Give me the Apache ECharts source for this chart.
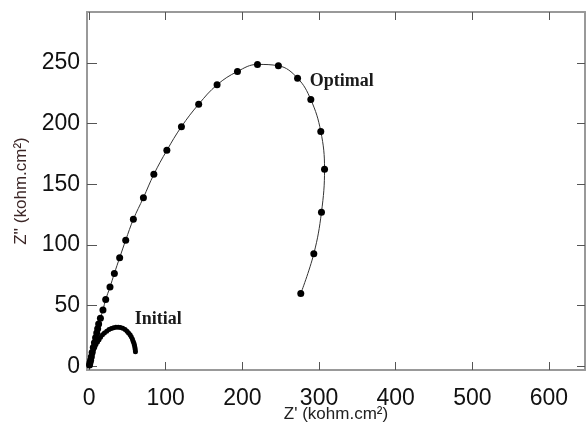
<!DOCTYPE html>
<html>
<head>
<meta charset="utf-8">
<script src="https://cdn.jsdelivr.net/npm/echarts@6/dist/echarts.min.js"></script>
<style>
html,body{margin:0;padding:0;background:#fff;}
#main{width:586px;height:426px;}
</style>
</head>
<body>
<div id="main"></div>
<script>
// Z' / Z'' en kohm.cm2
var optimalPts=[
    [0.6,1.2],[1.2,3],[2,5],[3,8],[4,11.5],[5.5,15.5],[7,19.5],[8.5,23.5],[10,27.5],[11.2,31],
    [12.5,35],[14.8,39.7],[18.1,46.5],[21.7,55.1],[27.3,65.3],[33,76.6],[39.9,89.5],[47.8,104],
    [57.8,121.2],[70.9,139],[84.5,158.2],[101.5,178],[120.5,197.5],[143,216],[167,232],
    [193.6,243],[219.7,248.8],[247,247.7],[272,237.5],[289.3,219.8],[302.3,193.6],
    [307.2,162.5],[303.2,127],[293.2,92.8],[276.2,60]
];
var initialPts=[
    [0.5,0.5],[1,2],[1.5,3.5],[2,5],[2.5,6.5],[3,8],[4,10],[5,12],[6,14],[7.5,16],[9,18],
    [11,20],[13,22],[15,24],[17.5,26],[20,27.5],[23,29],[26,30.3],[29,31.2],[32,31.8],
    [35,32.2],[38,32.3],[41,32],[44,31.3],[47,30.3],[49.5,29],[51.5,27.5],[53.5,26],
    [55,24.3],[56.5,22.5],[57.5,20.7],[58.5,19],[59.2,17.3],[59.8,15.5],[60.2,13.8],[60.5,12]
];
var xTicks=[0,100,200,300,400,500,600];
var yTicks=[0,50,100,150,200,250];
var labelOptimal=["Optimal",[288,234.7]];
var labelInitial=["Initial",[59.5,38.8]];

var myChart=echarts.init(document.getElementById('main'));

var axisLine={show:true,onZero:false,lineStyle:{color:'#999',width:2}};
var tickStyle={color:'#555',width:1};

function textMark(item){
    return {
        data:[{
            coord:item[1],
            symbolSize:0,
            label:{
                show:true,
                formatter:item[0],
                position:'right',
                distance:0,
                fontFamily:'Liberation Serif',
                fontWeight:'bold',
                fontSize:18,
                color:'#1a1a1a'
            }
        }],
        symbol:'circle',
        silent:true,
        animation:false
    };
}

var option={
    animation:false,
    grid:{left:87,right:1,top:12,bottom:56,outerBoundsMode:'none',containLabel:false},
    xAxis:[{
        type:'value',
        position:'bottom',
        min:-2.7,
        max:647,
        name:"Z' (kohm.cm²)",
        nameLocation:'middle',
        nameGap:36,
        nameMoveOverlap:false,
        nameTextStyle:{fontFamily:'Liberation Sans',fontSize:17,color:'#222'},
        axisLine:axisLine,
        axisTick:{show:true,inside:true,length:8,lineStyle:tickStyle,customValues:xTicks},
        axisLabel:{fontFamily:'Liberation Sans',fontSize:23,color:'#111',margin:17,customValues:xTicks},
        splitLine:{show:false}
    },{
        type:'value',
        position:'top',
        min:-2.7,
        max:647,
        axisLine:axisLine,
        axisTick:{show:true,inside:true,length:8,lineStyle:tickStyle,customValues:xTicks},
        axisLabel:{show:false},
        splitLine:{show:false}
    }],
    yAxis:[{
        type:'value',
        position:'left',
        min:-3,
        max:292,
        name:"Z'' (kohm.cm²)",
        nameLocation:'middle',
        nameGap:57,
        nameMoveOverlap:false,
        nameTextStyle:{fontFamily:'Liberation Sans',fontSize:17,color:'#3b2626'},
        axisLine:axisLine,
        axisTick:{show:true,inside:true,length:10,lineStyle:tickStyle,customValues:yTicks},
        axisLabel:{fontFamily:'Liberation Sans',fontSize:23,color:'#111',margin:7,customValues:yTicks},
        splitLine:{show:false}
    },{
        type:'value',
        position:'right',
        min:-3,
        max:292,
        axisLine:axisLine,
        axisTick:{show:true,inside:true,length:8,lineStyle:tickStyle,customValues:yTicks},
        axisLabel:{show:false},
        splitLine:{show:false}
    }],
    series:[{
        name:'Optimal',
        type:'line',
        data:optimalPts,
        smooth:0.4,
        symbol:'circle',
        symbolSize:7,
        showAllSymbol:true,
        itemStyle:{color:'#000'},
        lineStyle:{color:'#333',width:1},
        markPoint:textMark(labelOptimal)
    },{
        name:'Initial',
        type:'line',
        data:initialPts,
        smooth:0.4,
        symbol:'circle',
        symbolSize:5,
        showAllSymbol:true,
        itemStyle:{color:'#000'},
        lineStyle:{color:'#333',width:1},
        markPoint:textMark(labelInitial)
    }]
};
myChart.setOption(option);
</script>
</body>
</html>
